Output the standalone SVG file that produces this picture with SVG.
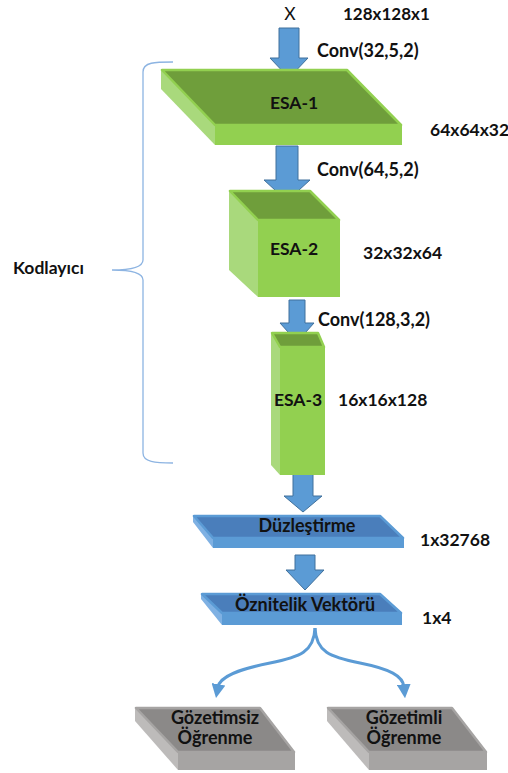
<svg xmlns="http://www.w3.org/2000/svg" width="508" height="773" viewBox="0 0 508 773">
  <style>
    text { font-family: Lato, "Liberation Sans", "DejaVu Sans", sans-serif; font-weight: 700; font-size: 17.5px; fill: #111; }
    .mid { text-anchor: middle; }
    .reg { font-weight: 400; }
    .lbl { font-size: 18px; }
    .g-top { fill: #6f9e3b; stroke: #92d050; stroke-width: 2.5; stroke-linejoin: round; }
    .g-front { fill: #92d050; }
    .g-side { fill: #a9d97c; }
    .b-top { fill: #4a7ebb; stroke: #5b9bd5; stroke-width: 2.5; stroke-linejoin: round; }
    .b-front { fill: #5b9bd5; }
    .b-side { fill: #7fb1e3; }
    .k-top { fill: #8b8988; stroke: #a6a4a3; stroke-width: 2.5; stroke-linejoin: round; }
    .k-front { fill: #a6a4a3; }
    .k-side { fill: #bdbbba; }
    .block-arrow { fill: #5b9bd5; stroke: #41719c; stroke-width: 1; stroke-linejoin: miter; }
    .flow { fill: none; stroke: #5b9bd5; stroke-width: 3; }
    .brace { fill: none; stroke: #8db4e2; stroke-width: 1.3; }
  </style>
  <defs>
    <marker id="head" viewBox="0 0 10 10" refX="2" refY="5" markerUnits="userSpaceOnUse" markerWidth="14" markerHeight="14" orient="auto">
      <path d="M0,0 L10,5 L0,10 z" fill="#5b9bd5"/>
    </marker>
  </defs>

  <!-- input -->
  <g id="input">
    <text class="reg mid" x="290" y="20">X</text>
    <text x="343" y="20" style="font-size:17px">128x128x1</text>
  </g>

  <!-- encoder brace -->
  <g id="encoder">
    <path class="brace" d="M173,62 C155,62 143,62 143,72 L143,260 C143,267 132,270 112,270 C132,270 143,273 143,280 L143,453 C143,462 155,463 173,463"/>
    <text x="13" y="274">Kodlayıcı</text>
  </g>

  <!-- block arrows between layers -->
  <g id="connectors">
    <polygon class="block-arrow" points="279,28 299,28 299,58 308,58 289,78 270,58 279,58"/>
    <polygon class="block-arrow" points="276,146 298,146 298,180 310,180 287,201 264,180 276,180"/>
    <polygon class="block-arrow" points="289,300 305,300 305,323 314,323 297,342 280,323 289,323"/>
    <polygon class="block-arrow" points="293,473 313,473 313,496 322,496 303,512 284,496 293,496"/>
    <polygon class="block-arrow" points="295,555 315,555 315,570 324,570 305,590 286,570 295,570"/>
    <path class="flow" d="M315,628 C314,652 300,657 270,663 C240,669 220,676 218,687" marker-end="url(#head)"/>
    <path class="flow" d="M315,628 C316,652 330,657 360,663 C390,669 403,676 404,687" marker-end="url(#head)"/>
  </g>

  <!-- conv annotations -->
  <text class="lbl" x="317" y="57">Conv(32,5,2)</text>
  <text class="lbl" x="317" y="176">Conv(64,5,2)</text>
  <text class="lbl" x="318" y="326">Conv(128,3,2)</text>

  <!-- ESA-1 -->
  <g id="esa1">
    <polygon class="g-side" points="161,70 215,125 215,145 161,89"/>
    <rect class="g-front" x="215" y="125" width="187" height="20"/>
    <polygon class="g-top" points="162,70 347,70 401,125 215,125"/>
    <text class="mid" x="294" y="109">ESA-1</text>
    <text x="430" y="136">64x64x32</text>
  </g>

  <!-- ESA-2 -->
  <g id="esa2">
    <polygon class="g-side" points="229,190 258,220 258,297 229,270"/>
    <rect class="g-front" x="258" y="220" width="82" height="77"/>
    <polygon class="g-top" points="230,191 310,191 339,220 258,220"/>
    <text class="mid" x="294" y="255">ESA-2</text>
    <text x="363" y="259">32x32x64</text>
  </g>

  <!-- ESA-3 -->
  <g id="esa3">
    <polygon class="g-side" points="271,332 280,347 280,475 271,465"/>
    <rect class="g-front" x="280" y="347" width="45" height="128"/>
    <polygon class="g-top" points="272,333 318,333 324,347 280,347"/>
    <text class="mid" x="298" y="406">ESA-3</text>
    <text x="338" y="406">16x16x128</text>
  </g>

  <!-- flatten -->
  <g id="flatten">
    <polygon class="b-side" points="193,515 213,538 213,548 193,522"/>
    <rect class="b-front" x="213" y="538" width="191" height="10"/>
    <polygon class="b-top" points="194,516 380,516 403,538 213,538"/>
    <text class="mid lbl" x="307" y="532">Düzleştirme</text>
    <text x="420" y="546">1x32768</text>
  </g>

  <!-- feature vector -->
  <g id="feature-vector">
    <polygon class="b-side" points="201,593 222,613 222,625 201,599"/>
    <rect class="b-front" x="222" y="613" width="180" height="12"/>
    <polygon class="b-top" points="202,594 380,594 401,613 222,613"/>
    <text class="mid lbl" x="305" y="611">Öznitelik Vektörü</text>
    <text x="422" y="624">1x4</text>
  </g>

  <!-- unsupervised learning -->
  <g id="unsupervised">
    <polygon class="k-side" points="135,708 178,752 178,770 135,721"/>
    <rect class="k-front" x="178" y="752" width="117" height="18"/>
    <polygon class="k-top" points="136,708 260,708 294,752 178,752"/>
    <text class="mid lbl" x="215" y="724">Gözetimsiz</text>
    <text class="mid lbl" x="215" y="744">Öğrenme</text>
  </g>

  <!-- supervised learning -->
  <g id="supervised">
    <polygon class="k-side" points="327,708 369,752 369,770 327,721"/>
    <rect class="k-front" x="369" y="752" width="118" height="18"/>
    <polygon class="k-top" points="328,708 452,708 486,752 369,752"/>
    <text class="mid lbl" x="404" y="724">Gözetimli</text>
    <text class="mid lbl" x="404" y="744">Öğrenme</text>
  </g>
</svg>
